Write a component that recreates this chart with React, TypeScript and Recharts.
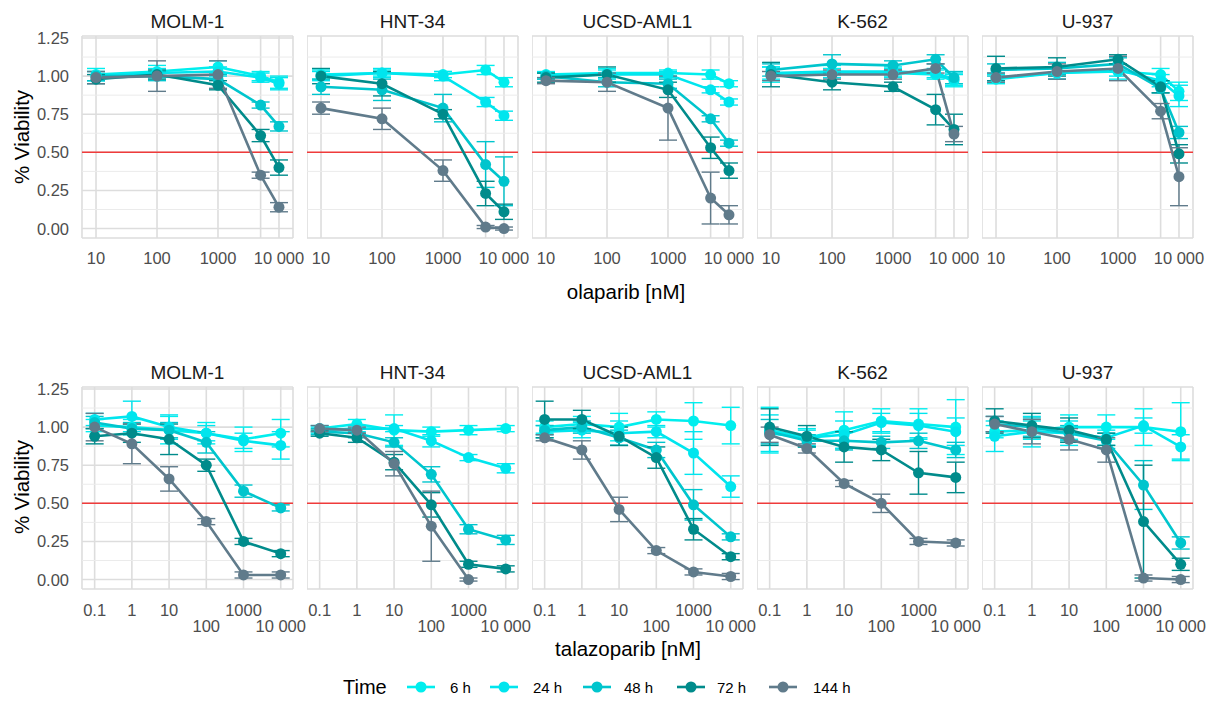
import React from 'react';
import { LineChart, Line, XAxis, YAxis, CartesianGrid, ReferenceLine, ErrorBar } from 'recharts';

const cellLines = ['MOLM-1', 'HNT-34', 'UCSD-AML1', 'K-562', 'U-937'];
const timeLabels = ['6 h', '24 h', '48 h', '72 h', '144 h'];
const timeColors = ['#00EEEE', '#00E5EE', '#00C5CD', '#008B8B', '#607B8B'];

const olaDoses = [10, 100, 1000, 5000, 10000];
const olaLabels = ['10', '100', '1000', '', '10 000'];
const talaDoses = [0.1, 1, 10, 100, 1000, 10000];
const talaLabels = ['0.1', '1', '10', '100', '1000', '10 000'];
const talaDodge = [false, false, false, true, false, true];

const yTicks = [0, 0.25, 0.5, 0.75, 1, 1.25];
const yMinor = [0.125, 0.375, 0.625, 0.875, 1.125];

// olaparib, rows: 6 h, 24 h, 48 h, 72 h, 144 h
const olaMOLM1 = [
  [1.01, 1.03, 1.06, 1.0, 0.96],
  [1.0, 1.02, 1.03, 0.99, 0.95],
  [1.0, 1.0, 0.98, 0.81, 0.67],
  [0.98, 1.01, 0.94, 0.61, 0.4],
  [0.99, 1.0, 1.01, 0.35, 0.14],
];
const olaMOLM1Err = [
  [0.04, 0.04, 0.04, 0.03, 0.04],
  [0.03, 0.03, 0.03, 0.03, 0.04],
  [0.03, 0.03, 0.03, 0.02, 0.03],
  [0.03, 0.03, 0.03, 0.04, 0.05],
  [0.04, 0.1, 0.09, 0.02, 0.03],
];
const olaHNT34 = [
  [1.01, 1.02, 1.01, 1.04, 0.96],
  [1.0, 1.02, 1.0, 0.83, 0.74],
  [0.93, 0.91, 0.79, 0.42, 0.31],
  [1.0, 0.95, 0.75, 0.23, 0.11],
  [0.79, 0.72, 0.38, 0.01, 0.0],
];
const olaHNT34Err = [
  [0.03, 0.02, 0.02, 0.03, 0.03],
  [0.03, 0.03, 0.03, 0.03, 0.03],
  [0.05, 0.07, 0.09, 0.15, 0.16],
  [0.05, 0.08, 0.03, 0.08, 0.05],
  [0.04, 0.07, 0.07, 0.01, 0.01],
];
const olaUCSD = [
  [1.01, 1.02, 1.02, 1.01, 0.95],
  [1.0, 1.01, 1.01, 0.91, 0.83],
  [1.0, 0.96, 0.95, 0.72, 0.56],
  [0.99, 1.01, 0.91, 0.53, 0.38],
  [0.97, 0.96, 0.79, 0.2, 0.09],
];
const olaUCSDErr = [
  [0.02, 0.03, 0.02, 0.03, 0.02],
  [0.02, 0.03, 0.02, 0.02, 0.02],
  [0.02, 0.03, 0.03, 0.02, 0.02],
  [0.03, 0.05, 0.05, 0.07, 0.05],
  [0.02, 0.06, 0.21, 0.17, 0.06],
];
const olaK562 = [
  [1.01, 1.02, 1.02, 1.01, 0.97],
  [1.02, 1.03, 1.03, 1.02, 0.98],
  [1.04, 1.08, 1.07, 1.11, 0.99],
  [1.01, 0.96, 0.93, 0.78, 0.65],
  [1.0, 1.01, 1.01, 1.05, 0.62],
];
const olaK562Err = [
  [0.05, 0.03, 0.03, 0.03, 0.04],
  [0.04, 0.04, 0.03, 0.03, 0.04],
  [0.04, 0.06, 0.03, 0.03, 0.04],
  [0.08, 0.05, 0.03, 0.1, 0.1],
  [0.03, 0.03, 0.03, 0.03, 0.05],
];
const olaU937 = [
  [0.98, 1.02, 1.03, 1.01, 0.9],
  [0.99, 1.02, 1.04, 0.97, 0.87],
  [1.04, 1.05, 1.08, 0.92, 0.63],
  [1.05, 1.06, 1.11, 0.93, 0.49],
  [0.99, 1.03, 1.05, 0.77, 0.34],
];
const olaU937Err = [
  [0.03, 0.04, 0.05, 0.04, 0.06],
  [0.03, 0.04, 0.04, 0.04, 0.07],
  [0.04, 0.04, 0.04, 0.03, 0.04],
  [0.08, 0.06, 0.03, 0.04, 0.06],
  [0.03, 0.05, 0.08, 0.05, 0.19],
];

// talazoparib
const talaMOLM1 = [
  [1.01, 1.0, 0.98, 0.96, 0.92, 0.96],
  [1.05, 1.07, 1.0, 0.96, 0.91, 0.88],
  [1.03, 0.99, 0.98, 0.9, 0.58, 0.47],
  [0.94, 0.96, 0.92, 0.75, 0.25, 0.17],
  [1.0, 0.89, 0.66, 0.38, 0.03, 0.03],
];
const talaMOLM1Err = [
  [0.04, 0.05, 0.09, 0.07, 0.08, 0.09],
  [0.04, 0.1, 0.08, 0.05, 0.05, 0.09],
  [0.04, 0.04, 0.05, 0.07, 0.04, 0.02],
  [0.05, 0.06, 0.1, 0.04, 0.02, 0.02],
  [0.09, 0.13, 0.08, 0.02, 0.02, 0.02],
];
const talaHNT34 = [
  [0.99, 1.02, 0.98, 0.97, 0.98, 0.99],
  [0.98, 0.99, 0.99, 0.91, 0.8, 0.73],
  [0.97, 0.96, 0.9, 0.69, 0.33, 0.26],
  [0.96, 0.93, 0.77, 0.49, 0.1, 0.07],
  [0.99, 0.98, 0.76, 0.35, 0.0, null],
];
const talaHNT34Err = [
  [0.02, 0.03, 0.1, 0.03, 0.03, 0.02],
  [0.02, 0.02, 0.02, 0.04, 0.02, 0.03],
  [0.02, 0.03, 0.03, 0.05, 0.03, 0.03],
  [0.02, 0.03, 0.05, 0.08, 0.02, 0.02],
  [0.02, 0.02, 0.08, 0.23, 0.01, null],
];
const talaUCSD = [
  [1.0, 1.02, 1.0, 1.05, 1.04, 1.01],
  [0.97, 0.98, 0.96, 0.97, 0.83, 0.61],
  [0.98, 1.0, 0.93, 0.85, 0.49, 0.28],
  [1.05, 1.05, 0.94, 0.8, 0.33, 0.15],
  [0.93, 0.85, 0.46, 0.19, 0.05, 0.02],
];
const talaUCSDErr = [
  [0.04, 0.05, 0.09, 0.05, 0.12, 0.12],
  [0.04, 0.05, 0.08, 0.04, 0.14, 0.07],
  [0.03, 0.04, 0.05, 0.05, 0.1, 0.02],
  [0.12, 0.06, 0.06, 0.07, 0.07, 0.02],
  [0.02, 0.06, 0.08, 0.02, 0.02, 0.02],
];
const talaK562 = [
  [0.98, 0.93, 0.98, 1.04, 1.02, 1.0],
  [0.96, 0.93, 0.95, 1.03, 1.01, 0.97],
  [0.97, 0.91, 0.91, 0.9, 0.91, 0.85],
  [1.0, 0.94, 0.87, 0.85, 0.7, 0.67],
  [0.95, 0.86, 0.63, 0.5, 0.25, 0.24],
];
const talaK562Err = [
  [0.15, 0.06, 0.12, 0.08, 0.1, 0.18],
  [0.12, 0.05, 0.09, 0.06, 0.08, 0.09],
  [0.08, 0.04, 0.06, 0.04, 0.05, 0.05],
  [0.12, 0.07, 0.1, 0.07, 0.14, 0.1],
  [0.05, 0.03, 0.02, 0.06, 0.02, 0.02],
];
const talaU937 = [
  [0.97, 0.98, 1.0, 1.0, 1.0, 0.97],
  [0.94, 0.97, 0.96, 0.93, 1.01, 0.87],
  [1.02, 1.0, 0.96, 0.91, 0.62, 0.24],
  [1.04, 1.01, 0.98, 0.92, 0.38, 0.1],
  [1.02, 0.97, 0.92, 0.85, 0.01, 0.0],
];
const talaU937Err = [
  [0.04, 0.06, 0.08, 0.08, 0.12, 0.19],
  [0.1, 0.1, 0.08, 0.05, 0.05, 0.08],
  [0.05, 0.06, 0.05, 0.05, 0.16, 0.04],
  [0.08, 0.08, 0.08, 0.04, 0.37, 0.04],
  [0.05, 0.08, 0.07, 0.08, 0.02, 0.02],
];

const olaValues = [olaMOLM1, olaHNT34, olaUCSD, olaK562, olaU937];
const olaErrors = [olaMOLM1Err, olaHNT34Err, olaUCSDErr, olaK562Err, olaU937Err];
const talaValues = [talaMOLM1, talaHNT34, talaUCSD, talaK562, talaU937];
const talaErrors = [talaMOLM1Err, talaHNT34Err, talaUCSDErr, talaK562Err, talaU937Err];

// layout
const FONT = '"Liberation Sans", Arial, Helvetica, sans-serif';
const PLOT_W = 211;
const PLOT_H = 202;
const TOP_PAD = 14;
const X_AXIS_H = 48;
const RIGHT_PAD = 28;
const COL_LEFT = [82, 307, 532, 757, 982];
const ROW_TOP = [36, 387];
const Y_DOMAIN = [-0.062, 1.263];
const OLA_DOMAIN = [Math.pow(10, 0.77), Math.pow(10, 4.23)];
const TALA_DOMAIN = [Math.pow(10, -1.34), Math.pow(10, 4.33)];
const TICK_COLOR = '#4D4D4D';
const TICK_SIZE = 16.5;

const OlaTick = (p: any) => {
  const i = olaDoses.indexOf(p.payload.value);
  return (
    <text x={p.x} y={TOP_PAD + PLOT_H + 20} textAnchor="middle" dominantBaseline="central"
      fontSize={TICK_SIZE} fill={TICK_COLOR} fontFamily={FONT}>
      {olaLabels[i]}
    </text>
  );
};

const TalaTick = (p: any) => {
  const i = talaDoses.indexOf(p.payload.value);
  return (
    <text x={p.x} y={TOP_PAD + PLOT_H + (talaDodge[i] ? 37 : 21)} textAnchor="middle" dominantBaseline="central"
      fontSize={TICK_SIZE} fill={TICK_COLOR} fontFamily={FONT}>
      {talaLabels[i]}
    </text>
  );
};

const YTick = (p: any) => (
  <text x={COL_LEFT[0] - 13} y={p.y} textAnchor="end" dominantBaseline="central"
    fontSize={TICK_SIZE} fill={TICK_COLOR} fontFamily={FONT}>
    {Number(p.payload.value).toFixed(2)}
  </text>
);

function Panel({ row, col, doses, values, errors }: any) {
  const first = col === 0;
  const yW = first ? COL_LEFT[0] : 0;
  const left = first ? 0 : COL_LEFT[col];
  const data = doses.map((dose: number, i: number) => {
    const r: Record<string, number | null | undefined> = { dose };
    values.forEach((s: (number | null)[], k: number) => {
      r[`v${k}`] = s[i];
      r[`e${k}`] = errors[k][i] == null ? undefined : errors[k][i];
    });
    return r;
  });
  return (
    <div style={{ position: 'absolute', left, top: ROW_TOP[row] - TOP_PAD }}>
      <LineChart width={yW + PLOT_W + RIGHT_PAD} height={TOP_PAD + PLOT_H + X_AXIS_H} data={data}
        margin={{ top: TOP_PAD, right: RIGHT_PAD, bottom: 0, left: 0 }}>
        <CartesianGrid stroke="#DDDDDD" strokeWidth={1.6} />
        {yMinor.map((v) => (
          <ReferenceLine key={v} y={v} stroke="#EBEBEB" strokeWidth={1} />
        ))}
        <XAxis dataKey="dose" type="number" scale="log"
          domain={row === 0 ? OLA_DOMAIN : TALA_DOMAIN} allowDataOverflow
          ticks={doses} interval={0} axisLine={false} tickLine={false} height={X_AXIS_H}
          tick={row === 0 ? OlaTick : TalaTick} />
        <YAxis type="number" domain={Y_DOMAIN} allowDataOverflow ticks={yTicks} interval={0}
          axisLine={false} tickLine={false} width={yW} tick={first ? YTick : false} />
        <ReferenceLine y={0.5} stroke="#EF3B3B" strokeWidth={1.5} />
        {timeColors.map((c, k) => (
          <Line key={k} dataKey={`v${k}`} stroke={c} strokeWidth={2.6}
            dot={{ r: 5.5, fill: c, stroke: 'none' }} activeDot={false} isAnimationActive={false}>
            <ErrorBar dataKey={`e${k}`} width={9} strokeWidth={1.4} stroke={c} />
          </Line>
        ))}
      </LineChart>
    </div>
  );
}

const legendKeyX = [407, 490, 583, 677, 769];
const legendTextX = [450, 533, 624, 717, 813];

export default function App() {
  return (
    <div style={{ position: 'absolute', left: 0, top: 0, width: 1218, height: 702, background: '#fff', overflow: 'hidden' }}>
      {cellLines.map((name, c) => (
        <Panel key={`o${c}`} row={0} col={c} doses={olaDoses} values={olaValues[c]} errors={olaErrors[c]} />
      ))}
      {cellLines.map((name, c) => (
        <Panel key={`t${c}`} row={1} col={c} doses={talaDoses} values={talaValues[c]} errors={talaErrors[c]} />
      ))}
      <svg width={1218} height={702} style={{ position: 'absolute', left: 0, top: 0, pointerEvents: 'none' }}
        fontFamily={FONT}>
        {cellLines.map((name, c) => (
          <g key={name}>
            <text x={COL_LEFT[c] + PLOT_W / 2} y={21} textAnchor="middle" dominantBaseline="central"
              fontSize={19} fill="#1A1A1A">{name}</text>
            <text x={COL_LEFT[c] + PLOT_W / 2} y={372} textAnchor="middle" dominantBaseline="central"
              fontSize={19} fill="#1A1A1A">{name}</text>
          </g>
        ))}
        <text transform="translate(21,137) rotate(-90)" textAnchor="middle" dominantBaseline="central"
          fontSize={20.5} fill="#000">% Viability</text>
        <text transform="translate(21,487) rotate(-90)" textAnchor="middle" dominantBaseline="central"
          fontSize={20.5} fill="#000">% Viability</text>
        <text x={626} y={291} textAnchor="middle" dominantBaseline="central" fontSize={20.5} fill="#000">
          olaparib [nM]
        </text>
        <text x={628} y={648} textAnchor="middle" dominantBaseline="central" fontSize={20.5} fill="#000">
          talazoparib [nM]
        </text>
        <text x={343} y={687} dominantBaseline="central" fontSize={20} fill="#000">Time</text>
        {timeLabels.map((t, k) => (
          <g key={t}>
            <line x1={legendKeyX[k]} x2={legendKeyX[k] + 28} y1={687} y2={687} stroke={timeColors[k]} strokeWidth={2.6} />
            <circle cx={legendKeyX[k] + 14} cy={687} r={5.5} fill={timeColors[k]} />
            <text x={legendTextX[k]} y={687} dominantBaseline="central" fontSize={15} fill="#000">{t}</text>
          </g>
        ))}
      </svg>
    </div>
  );
}
